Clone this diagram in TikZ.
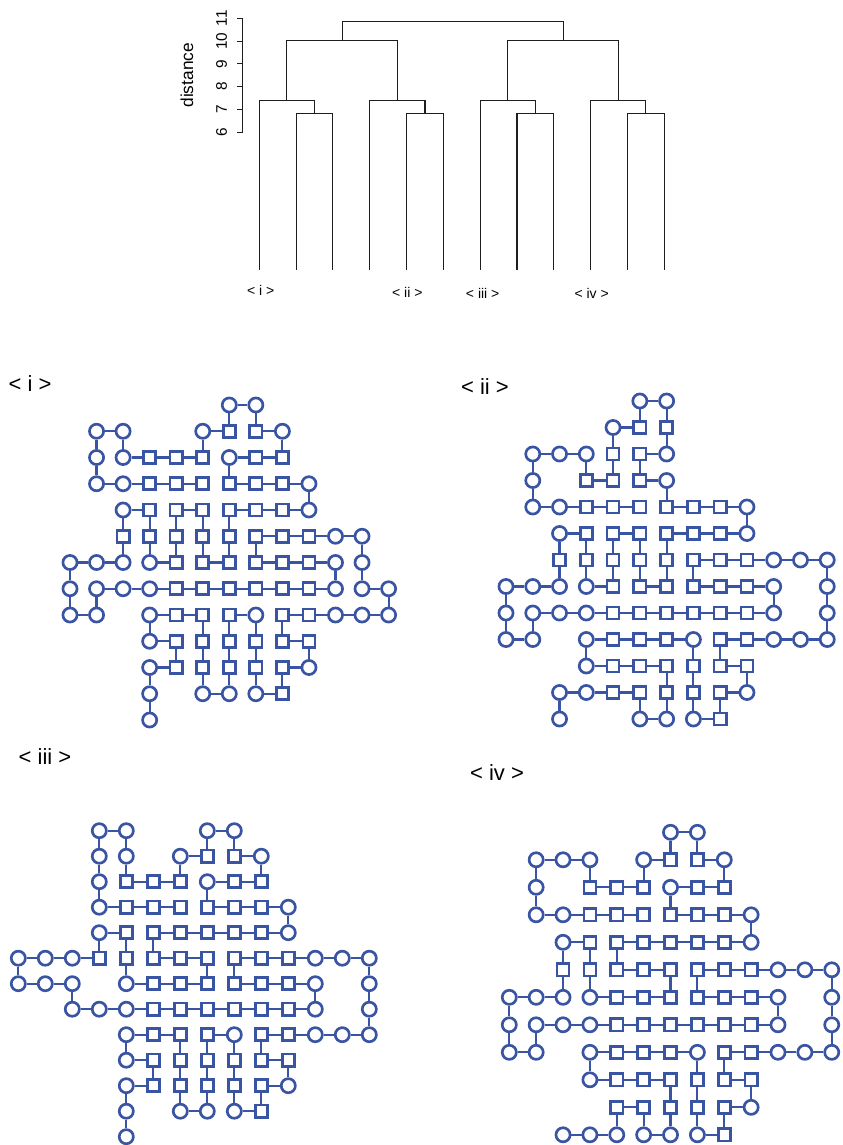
\documentclass[tikz,border=0pt]{standalone}
\usepackage{fontspec}
\setmainfont{Liberation Sans}
\definecolor{pblue}{RGB}{58,84,164}
\definecolor{dgray}{RGB}{30,30,30}
\tikzset{
  circ/.style={circle, draw=pblue, line width=2pt, fill=white, inner sep=0pt, minimum size=10.6pt},
  sq/.style={rectangle, draw=pblue, line width=2pt, fill=white, inner sep=0pt, minimum size=9.1pt},
  bond/.style={draw=pblue, line width=1.6pt},
  dend/.style={draw=dgray, line width=0.8pt},
  plabel/.style={inner sep=0pt, font=\fontsize{16.5}{18}\selectfont},
  llabel/.style={inner sep=0pt, font=\fontsize{10.5}{12}\selectfont},
  tlabel/.style={inner sep=0pt, rotate=90, font=\fontsize{11.5}{13}\selectfont},
  alabel/.style={inner sep=0pt, rotate=90, font=\fontsize{13}{15}\selectfont},
}
\newcommand\lattice[9]{%
  \foreach \r/\c in {#6} \node[circ] (#1-\r-\c) at ({#2+#3*\c},{#4+#5*\r}) {};
  \foreach \r/\c in {#7} \node[sq] (#1-\r-\c) at ({#2+#3*\c},{#4+#5*\r}) {};
  \foreach \r/\c in {#8} {\pgfmathtruncatemacro\cn{\c+1}\draw[bond] (#1-\r-\c) -- (#1-\r-\cn);}
  \foreach \r/\c in {#9} {\pgfmathtruncatemacro\rn{\r+1}\draw[bond] (#1-\r-\c) -- (#1-\rn-\c);}
}
\begin{document}
\begin{tikzpicture}[x=0.75pt,y=-0.75pt]
\useasboundingbox (0,0) rectangle (842,1145);

% ---------------- dendrogram ----------------
\draw[dend] (242.7,18.3) -- (242.7,132.3);
\foreach \d in {6,...,11} {
  \draw[dend] (242.7,{132.3-22.8*(\d-6)}) -- (236.7,{132.3-22.8*(\d-6)});
  \node[tlabel] (tick\d) at (221.5,{132.3-22.8*(\d-6)}) {\d};
}
\node[alabel] (axislab) at (187,75.3) {distance};
% groups
\foreach \a/\b/\c in {259.3/296.1/332.9, 369.8/406.6/443.4, 480.2/517.0/553.9, 590.7/627.5/664.3} {
  \draw[dend] (\b,270) -- (\b,113.6) -- (\c,113.6) -- (\c,270);
  \draw[dend] (\a,270) -- (\a,100.1) -- ({(\b+\c)/2},100.1) -- ({(\b+\c)/2},113.6);
}
\draw[dend] (286.9,100.1) -- (286.9,40.7) -- (397.4,40.7) -- (397.4,100.1);
\draw[dend] (507.8,100.1) -- (507.8,40.7) -- (618.3,40.7) -- (618.3,100.1);
\draw[dend] (342.15,40.7) -- (342.15,21.7) -- (563.05,21.7) -- (563.05,40.7);
\node[llabel] (dl1) at (260.7,290.7) {< i >};
\node[llabel] (dl2) at (407.3,292.3) {< ii >};
\node[llabel] (dl3) at (482.7,293.3) {< iii >};
\node[llabel] (dl4) at (591.7,293.3) {< iv >};

% ---------------- panel labels ----------------
\node[plabel] (pl1) at (30,384) {< i >};
\node[plabel] (pl2) at (485,387) {< ii >};
\node[plabel] (pl3) at (45,757) {< iii >};
\node[plabel] (pl4) at (497,773) {< iv >};

% ---------------- panel i ----------------
\lattice{A}{70}{26.55}{405}{26.25}
{0/6,0/7, 1/1,1/2,1/5,1/8, 2/1,2/2,2/6, 3/1,3/2,3/9, 4/2,4/9, 5/10,5/11, 6/0,6/1,6/2,6/3,6/10,6/11, 7/0,7/1,7/2,7/3,7/10,7/11,7/12, 8/0,8/1,8/3,8/7,8/10,8/11,8/12, 9/3, 10/3,10/9, 11/3,11/5,11/6,11/7, 12/3}
{1/6,1/7, 2/3,2/4,2/5,2/7,2/8, 3/3,3/4,3/5,3/6,3/7,3/8, 4/3,4/4,4/5,4/6,4/7,4/8, 5/2,5/3,5/4,5/5,5/6,5/7,5/8,5/9, 6/4,6/5,6/6,6/7,6/8,6/9, 7/4,7/5,7/6,7/7,7/8,7/9, 8/4,8/5,8/6,8/8,8/9, 9/4,9/5,9/6,9/7,9/8,9/9, 10/4,10/5,10/6,10/7,10/8, 11/8}
{0/6, 1/1,1/5,1/7, 2/2,2/3,2/4,2/6,2/7, 3/1,3/2,3/3,3/4,3/6,3/7,3/8, 4/2,4/4,4/6,4/7,4/8, 5/7,5/8,5/9,5/10, 6/0,6/1,6/3,6/5,6/7,6/8,6/9, 7/1,7/2,7/3,7/4,7/5,7/6,7/7,7/8,7/9,7/11, 8/0,8/3,8/4,8/6,8/8,8/9,8/10,8/11, 9/3,9/8, 10/3,10/8, 11/5,11/7}
{0/6,0/7, 1/1,1/2,1/5,1/8, 2/1,2/6, 3/9, 4/2,4/3,4/4,4/5,4/6, 5/2,5/3,5/4,5/5,5/6,5/7,5/11, 6/0,6/10,6/11, 7/0,7/1,7/12, 8/3,8/5,8/6,8/7,8/8, 9/4,9/5,9/6,9/7,9/9, 10/3,10/5,10/6,10/7,10/8, 11/3}

% ---------------- panel ii ----------------
\lattice{B}{506}{26.77}{401}{26.5}
{0/5,0/6, 1/4, 2/1,2/2,2/3,2/6, 3/1,3/6, 4/1,4/2,4/9, 5/2,5/9, 6/10,6/11,6/12, 7/0,7/1,7/2,7/3,7/10,7/12, 8/0,8/1,8/2,8/3,8/10,8/12, 9/0,9/1,9/3,9/7,9/10,9/11,9/12, 10/3, 11/2,11/3,11/9, 12/2,12/5,12/6,12/7}
{1/5,1/6, 2/4,2/5, 3/3,3/4,3/5, 4/3,4/4,4/5,4/6,4/7,4/8, 5/3,5/4,5/5,5/6,5/7,5/8, 6/2,6/3,6/4,6/5,6/6,6/7,6/8,6/9, 7/4,7/5,7/6,7/7,7/8,7/9, 8/4,8/5,8/6,8/7,8/8,8/9, 9/4,9/5,9/6,9/8,9/9, 10/4,10/5,10/6,10/7,10/8,10/9, 11/4,11/5,11/6,11/7,11/8, 12/8}
{0/5, 1/4, 2/1,2/2,2/5, 3/3,3/5, 4/1,4/2,4/3,4/4,4/6,4/7,4/8, 5/2,5/4,5/6,5/7,5/8, 6/7,6/8,6/9,6/10,6/11, 7/0,7/1,7/3,7/5,7/7,7/8,7/9, 8/1,8/2,8/3,8/4,8/5,8/6,8/7,8/8,8/9, 9/0,9/3,9/4,9/5,9/6,9/8,9/9,9/10,9/11, 10/3,10/4,10/5,10/8, 11/2,11/3,11/4,11/8, 12/5,12/7}
{0/5,0/6, 1/4,1/6, 2/1,2/3,2/4,2/5, 3/1,3/6, 4/9, 5/2,5/3,5/4,5/5,5/6, 6/2,6/3,6/4,6/5,6/6,6/7,6/12, 7/0,7/10,7/12, 8/0,8/1,8/12, 9/3,9/7,9/8, 10/6,10/7,10/9, 11/2,11/5,11/6,11/7,11/8}

% ---------------- panel iii ----------------
\lattice{C}{18.3}{27.0}{830.7}{25.5}
{0/3,0/4,0/7,0/8, 1/3,1/4,1/6,1/9, 2/3,2/7, 3/3,3/10, 4/3,4/10, 5/0,5/1,5/2,5/11,5/12,5/13, 6/0,6/1,6/2,6/4,6/11,6/13, 7/2,7/3,7/4,7/11,7/13, 8/4,8/8,8/11,8/12,8/13, 9/4, 10/4,10/10, 11/4,11/6,11/7,11/8, 12/4}
{1/7,1/8, 2/4,2/5,2/6,2/8,2/9, 3/4,3/5,3/6,3/7,3/8,3/9, 4/4,4/5,4/6,4/7,4/8,4/9, 5/3,5/4,5/5,5/6,5/7,5/8,5/9,5/10, 6/5,6/6,6/7,6/8,6/9,6/10, 7/5,7/6,7/7,7/8,7/9,7/10, 8/5,8/6,8/7,8/9,8/10, 9/5,9/6,9/7,9/8,9/9,9/10, 10/5,10/6,10/7,10/8,10/9, 11/9}
{0/3,0/7, 1/6,1/8, 2/4,2/5,2/7,2/8, 3/3,3/4,3/5,3/7,3/8,3/9, 4/3,4/5,4/6,4/7,4/8,4/9, 5/0,5/1,5/2,5/5,5/6,5/8,5/9,5/10,5/11,5/12, 6/0,6/1,6/4,6/5,6/6,6/8,6/9,6/10, 7/2,7/3,7/4,7/5,7/6,7/7,7/8,7/9,7/10, 8/4,8/5,8/7,8/9,8/10,8/11,8/12, 9/4,9/9, 10/4,10/9, 11/6,11/8}
{0/3,0/4,0/7,0/8, 1/3,1/4,1/6,1/9, 2/3,2/7, 3/10, 4/3,4/4,4/5, 5/0,5/4,5/7,5/8,5/13, 6/2,6/11,6/13, 7/13, 8/4,8/6,8/7,8/8,8/9, 9/5,9/6,9/7,9/8,9/10, 10/4,10/6,10/7,10/8,10/9, 11/4}

% ---------------- panel iv ----------------
\lattice{D}{509.3}{26.87}{832.3}{27.5}
{0/6,0/7, 1/1,1/2,1/3,1/5,1/8, 2/1,2/6, 3/1,3/2,3/9, 4/2,4/9, 5/10,5/11,5/12, 6/0,6/1,6/2,6/3,6/10,6/12, 7/0,7/1,7/2,7/3,7/10,7/12, 8/0,8/1,8/3,8/7,8/10,8/11,8/12, 9/3, 10/9, 11/2,11/3,11/4,11/5,11/6,11/7}
{1/6,1/7, 2/3,2/4,2/5,2/7,2/8, 3/3,3/4,3/5,3/6,3/7,3/8, 4/3,4/4,4/5,4/6,4/7,4/8, 5/2,5/3,5/4,5/5,5/6,5/7,5/8,5/9, 6/4,6/5,6/6,6/7,6/8,6/9, 7/4,7/5,7/6,7/7,7/8,7/9, 8/4,8/5,8/6,8/8,8/9, 9/4,9/5,9/6,9/7,9/8,9/9, 10/4,10/5,10/6,10/7,10/8, 11/8}
{0/6, 1/1,1/2,1/5,1/7, 2/3,2/4,2/6,2/7, 3/1,3/2,3/3,3/4,3/6,3/7,3/8, 4/2,4/4,4/5,4/6,4/7,4/8, 5/4,5/5,5/7,5/8,5/9,5/10,5/11, 6/0,6/1,6/3,6/4,6/5,6/7,6/8,6/9, 7/1,7/2,7/3,7/4,7/5,7/6,7/7,7/8,7/9, 8/0,8/3,8/4,8/5,8/6,8/8,8/9,8/10,8/11, 9/3,9/4,9/5,9/8, 10/4,10/8, 11/2,11/3,11/5,11/7}
{0/6,0/7, 1/1,1/3,1/5,1/8, 2/1,2/6, 3/9, 4/2,4/3,4/4, 5/2,5/3,5/6,5/7,5/12, 6/0,6/10,6/12, 7/0,7/1,7/12, 8/3,8/7,8/8, 9/6,9/7,9/9, 10/4,10/5,10/6,10/7,10/8}
\end{tikzpicture}
\end{document}
